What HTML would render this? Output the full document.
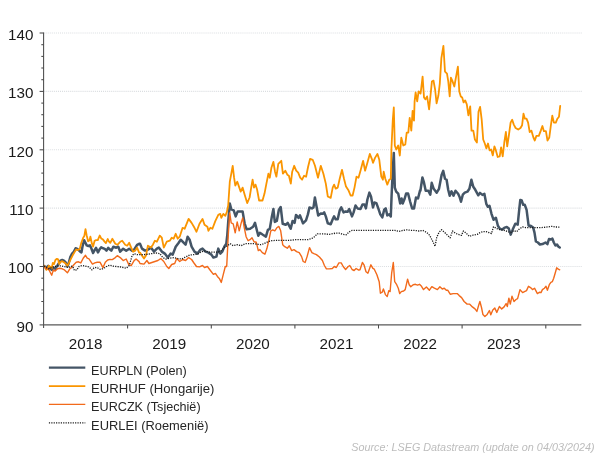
<!DOCTYPE html>
<html><head><meta charset="utf-8"><title>chart</title>
<style>
html,body{margin:0;padding:0;background:#fff;}
body{width:605px;height:454px;overflow:hidden;font-family:"Liberation Sans",sans-serif;}
svg{display:block;will-change:transform;}
text{font-family:"Liberation Sans",sans-serif;}
</style></head><body>
<svg width="605" height="454" viewBox="0 0 605 454">
<rect width="605" height="454" fill="#ffffff"/>
<g stroke="#dadde0" stroke-width="1.1" stroke-dasharray="1,1.05" fill="none"><line x1="43.6" x2="582" y1="266.5" y2="266.5"/><line x1="43.6" x2="582" y1="208.1" y2="208.1"/><line x1="43.6" x2="582" y1="149.8" y2="149.8"/><line x1="43.6" x2="582" y1="91.4" y2="91.4"/><line x1="43.6" x2="582" y1="33.0" y2="33.0"/></g>
<g fill="none" stroke-linejoin="round" stroke-linecap="round">
<path d="M44.1,266.1 L46.4,267.6 L48.2,265.8 L49.9,268.2 L51.7,269.9 L53.4,267.6 L55.2,268.8 L56.9,266.4 L58.7,263.5 L60.4,260.6 L62.2,260.0 L63.9,260.6 L65.7,262.3 L67.4,266.4 L68.6,263.5 L70.3,257.1 L72.1,253.6 L73.8,251.8 L75.6,248.3 L77.3,248.9 L79.7,251.2 L81.4,252.4 L82.6,246.0 L84.1,240.2 L85.3,242.5 L86.7,245.4 L88.4,246.0 L89.9,245.4 L91.3,248.3 L93.1,253.0 L94.6,250.1 L96.0,247.8 L98.0,252.4 L99.5,249.5 L101.2,247.2 L103.0,248.3 L104.8,248.9 L106.5,250.7 L108.2,247.8 L110.0,249.5 L111.3,250.7 L113.3,246.7 L116.3,247.7 L118.3,246.7 L120.2,251.7 L123.2,248.7 L126.2,250.7 L129.2,248.7 L132.1,250.7 L134.1,249.7 L137.1,244.8 L139.1,243.8 L140.0,243.7 L142.0,248.6 L145.0,250.6 L147.9,249.6 L150.9,247.6 L153.9,251.6 L156.9,248.6 L158.8,247.6 L161.8,251.6 L164.8,253.6 L167.8,257.6 L170.7,253.6 L172.7,254.6 L175.7,246.7 L178.7,242.7 L180.7,239.7 L183.6,242.7 L185.6,244.7 L187.6,236.7 L189.6,239.7 L191.6,246.7 L194.5,251.6 L197.5,253.6 L200.5,249.6 L202.5,248.6 L205.5,251.6 L208.4,252.6 L211.4,254.6 L213.4,257.6 L216.4,256.6 L218.3,248.6 L220.3,253.6 L222.3,251.6 L224.3,246.7 L226.3,243.7 L227.3,234.8 L228.3,220.9 L229.8,203.5 L231.3,209.4 L233.7,210.4 L235.7,216.4 L237.7,211.4 L242.6,211.4 L244.6,223.3 L246.6,229.3 L250.1,228.8 L253.1,226.8 L255.0,222.9 L257.0,230.8 L258.3,235.7 L259.9,232.8 L262.9,234.8 L265.9,236.7 L267.9,229.8 L269.8,228.8 L271.8,216.9 L273.4,209.0 L274.8,221.9 L276.8,220.9 L278.8,210.0 L280.7,207.0 L282.7,223.8 L285.7,224.8 L287.7,222.9 L290.7,228.8 L292.6,220.9 L294.6,222.9 L296.0,214.9 L298.6,217.9 L300.0,215.4 L303.0,223.3 L306.0,220.3 L307.9,214.4 L309.5,207.4 L311.9,208.4 L313.5,207.4 L314.9,197.5 L316.9,208.4 L318.2,215.4 L320.8,213.4 L322.8,213.8 L324.2,212.4 L325.8,216.4 L327.8,223.3 L330.7,224.3 L332.7,219.3 L334.1,216.4 L335.7,219.3 L337.7,219.3 L339.7,210.4 L341.3,207.4 L343.6,212.4 L345.6,211.4 L347.6,211.8 L349.2,209.0 L352.0,216.4 L353.6,212.4 L355.5,205.5 L357.5,208.4 L360.5,209.0 L362.5,204.5 L364.5,204.5 L365.9,208.4 L367.4,199.5 L369.4,192.6 L371.0,196.5 L373.0,207.4 L374.4,202.5 L376.4,203.1 L378.3,208.4 L380.3,214.4 L382.3,217.4 L384.3,209.4 L385.7,208.4 L387.3,215.4 L389.3,214.4 L390.8,216.4 L391.6,195.5 L392.8,169.8 L393.8,152.9 L394.8,187.6 L396.2,191.6 L398.2,193.6 L400.2,203.5 L401.6,198.5 L402.7,203.5 L404.7,198.5 L406.1,193.6 L408.1,193.6 L410.1,201.5 L412.1,208.4 L414.0,208.4 L416.0,197.5 L418.0,198.5 L420.0,190.6 L420.4,190.7 L422.4,177.5 L423.8,181.8 L425.7,190.7 L428.3,190.7 L430.3,194.7 L431.7,182.8 L433.7,188.8 L436.7,192.7 L439.0,188.8 L441.6,174.9 L443.2,170.9 L445.0,178.8 L446.6,179.8 L448.2,189.8 L449.7,195.7 L451.5,191.3 L453.5,195.7 L455.5,190.7 L458.1,193.7 L459.5,196.7 L461.0,201.7 L462.8,194.7 L464.8,192.7 L467.4,191.7 L469.4,188.8 L471.4,179.8 L473.3,186.8 L475.3,189.8 L478.3,195.3 L480.0,192.9 L482.4,194.9 L484.4,193.9 L486.3,203.8 L487.9,206.8 L489.5,205.8 L491.5,213.8 L493.5,219.7 L495.9,217.7 L497.9,225.7 L499.8,228.6 L502.2,229.6 L504.8,227.6 L506.8,227.0 L508.8,228.6 L510.7,234.6 L512.7,229.6 L515.3,223.7 L517.7,224.7 L519.3,208.8 L520.3,199.9 L521.7,200.5 L523.2,204.8 L524.8,204.8 L526.6,209.8 L528.6,225.7 L530.6,225.7 L533.2,227.6 L534.5,232.6 L535.9,241.5 L537.9,242.5 L539.9,244.5 L542.5,244.1 L545.5,242.5 L547.4,244.1 L549.0,239.0 L551.0,239.5 L552.4,238.6 L553.8,242.5 L555.4,245.5 L557.0,244.5 L558.3,246.5 L559.7,247.5" stroke="#445566" stroke-width="2.5"/>
<path d="M44.1,265.8 L45.2,267.6 L46.4,269.9 L47.6,268.8 L48.8,265.8 L50.5,267.0 L51.7,268.2 L52.8,262.9 L54.0,264.1 L55.4,260.0 L56.9,258.8 L58.1,259.4 L59.2,264.1 L60.8,261.8 L62.2,261.2 L63.9,262.3 L65.7,263.5 L67.4,265.8 L69.2,262.3 L70.9,258.8 L72.7,255.3 L74.4,252.4 L76.2,249.5 L77.9,250.1 L79.7,248.9 L81.4,242.5 L83.2,237.8 L84.3,236.1 L85.5,229.1 L86.7,235.5 L88.1,241.3 L89.6,240.2 L90.4,236.7 L91.9,243.7 L93.1,246.6 L94.6,240.8 L96.0,240.2 L97.8,240.2 L99.7,235.5 L101.2,238.4 L103.0,239.6 L104.8,241.9 L105.9,243.1 L107.7,239.0 L108.8,241.3 L110.0,242.5 L110.3,242.8 L112.3,238.8 L115.3,243.8 L117.3,244.8 L120.2,241.8 L122.2,240.8 L125.2,244.8 L127.2,245.7 L129.2,242.8 L131.2,247.7 L133.1,251.7 L135.1,250.7 L137.1,247.7 L139.1,252.7 L140.0,252.6 L144.0,258.6 L146.0,255.6 L147.9,245.7 L150.9,247.6 L152.9,244.7 L154.9,240.7 L156.9,241.7 L159.8,235.7 L161.8,237.7 L163.8,247.6 L166.8,241.7 L169.8,240.7 L171.7,237.7 L173.7,238.7 L175.7,233.8 L177.7,238.7 L179.7,236.7 L182.6,227.8 L184.6,228.8 L188.6,218.9 L191.6,222.9 L194.5,227.8 L196.5,231.8 L199.5,223.8 L202.5,218.9 L204.5,224.8 L207.4,226.8 L208.4,230.8 L210.4,227.8 L212.4,228.8 L215.4,220.9 L218.3,214.9 L220.3,213.9 L221.3,217.9 L223.3,213.9 L225.3,215.9 L226.9,211.9 L228.2,205.5 L229.8,181.7 L231.3,173.7 L232.7,165.8 L234.1,177.7 L235.3,185.6 L237.3,181.7 L239.3,187.6 L240.7,191.6 L242.6,187.6 L244.6,194.5 L247.2,203.1 L249.6,197.5 L251.2,187.6 L252.6,179.7 L254.0,187.6 L255.5,184.6 L257.1,189.6 L259.1,200.5 L262.5,200.5 L264.5,193.6 L266.4,183.6 L268.4,173.7 L269.8,177.7 L271.4,167.8 L273.4,161.8 L275.0,171.7 L276.4,176.7 L278.3,163.8 L281.3,160.8 L282.9,173.7 L285.3,170.7 L287.3,174.7 L288.9,175.7 L290.8,183.6 L292.2,171.7 L294.2,165.8 L296.2,170.7 L298.2,172.7 L300.2,177.7 L302.1,179.7 L304.1,175.7 L306.1,176.7 L308.1,166.8 L310.1,158.8 L312.7,159.8 L315.0,165.8 L318.0,177.7 L320.8,165.8 L323.4,173.7 L325.8,183.6 L327.8,196.5 L330.7,197.9 L332.7,187.6 L334.1,184.6 L335.7,188.6 L337.7,187.6 L339.7,178.7 L342.0,169.8 L344.0,178.7 L346.0,186.6 L348.6,190.6 L350.6,195.5 L352.6,195.5 L354.5,187.6 L356.5,176.7 L358.5,177.7 L360.5,170.7 L363.1,160.8 L365.1,170.7 L367.4,162.8 L369.8,153.9 L371.8,158.8 L373.0,162.8 L375.0,157.9 L377.4,153.9 L379.3,159.8 L381.3,176.7 L382.9,179.7 L383.7,171.7 L385.3,178.7 L387.3,184.6 L389.3,179.7 L390.8,178.7 L391.4,149.5 L392.8,119.8 L393.8,107.5 L394.8,145.5 L396.2,149.5 L398.2,145.5 L399.8,155.5 L401.3,137.6 L403.3,145.5 L405.3,144.5 L406.7,132.6 L408.3,132.6 L409.7,117.8 L411.3,130.7 L412.6,110.8 L414.0,120.7 L414.6,101.4 L415.6,92.5 L417.2,101.4 L418.6,91.5 L420.6,93.5 L422.6,76.6 L424.0,97.4 L425.5,99.4 L427.1,96.4 L429.1,109.3 L430.5,95.5 L431.9,81.6 L433.5,80.6 L435.1,89.5 L436.6,103.4 L438.4,95.5 L439.8,83.6 L441.4,57.8 L443.4,45.9 L445.0,71.7 L447.0,73.6 L448.3,81.6 L449.7,96.4 L450.9,77.6 L452.3,80.6 L454.3,86.5 L455.9,77.6 L457.9,66.7 L459.3,91.5 L460.8,96.4 L462.2,97.4 L463.6,102.4 L465.2,100.4 L466.8,104.4 L468.4,115.3 L470.2,106.4 L471.5,130.6 L473.3,130.6 L474.9,139.5 L476.9,142.5 L478.5,111.7 L480.1,106.8 L481.7,119.7 L483.2,139.5 L484.8,143.5 L486.4,148.4 L488.0,143.5 L489.6,150.4 L491.2,149.4 L492.8,155.4 L494.4,146.4 L495.9,150.4 L497.7,157.0 L499.7,156.4 L501.1,147.4 L502.7,156.4 L504.3,142.5 L505.9,132.0 L507.2,146.4 L509.0,134.5 L510.6,122.6 L512.2,119.7 L513.8,124.6 L515.6,128.0 L518.2,129.6 L520.5,128.0 L522.1,125.2 L523.5,113.7 L524.9,118.7 L526.5,118.7 L528.1,122.6 L529.7,132.0 L531.4,130.6 L533.4,137.5 L534.8,140.5 L536.4,135.9 L538.8,135.9 L540.8,130.6 L542.4,126.0 L543.9,131.2 L545.9,131.2 L547.5,140.5 L549.3,137.5 L550.7,126.6 L552.3,115.7 L553.9,122.6 L555.8,122.6 L557.4,118.7 L559.0,116.7 L560.2,105.8" stroke="#fa9500" stroke-width="1.8"/>
<path d="M44.1,266.1 L45.8,268.8 L47.6,268.2 L49.3,270.5 L51.7,275.2 L53.4,269.9 L55.2,271.1 L57.5,268.8 L59.8,268.2 L62.2,268.8 L64.5,269.9 L67.4,272.8 L69.8,268.8 L71.5,267.6 L73.8,264.7 L76.2,262.3 L78.5,261.8 L80.8,262.9 L83.2,258.2 L85.5,255.3 L87.2,258.2 L89.0,258.8 L91.3,262.3 L92.5,264.1 L94.8,262.9 L97.2,262.3 L100.1,262.3 L103.0,267.6 L105.3,262.3 L107.7,260.0 L110.0,259.4 L112.3,259.6 L115.3,257.6 L117.3,255.7 L120.2,257.6 L123.2,260.6 L126.2,259.0 L128.8,264.6 L131.2,265.6 L134.1,260.6 L136.1,259.0 L139.1,261.6 L140.0,263.5 L144.0,264.1 L146.9,260.5 L148.9,263.5 L151.9,262.5 L154.9,261.5 L157.9,260.5 L160.8,258.6 L163.8,261.5 L166.8,266.5 L168.8,268.5 L171.7,264.5 L174.7,263.5 L176.7,258.6 L179.7,261.5 L182.6,259.5 L185.6,260.5 L188.6,257.6 L191.6,259.5 L193.6,262.5 L196.5,266.5 L199.5,266.9 L202.5,265.5 L204.5,267.5 L207.4,266.5 L210.4,270.5 L213.4,274.4 L215.4,273.4 L217.4,276.4 L219.3,278.4 L221.3,282.4 L223.3,274.4 L225.3,266.5 L226.7,266.5 L228.3,234.8 L229.7,212.9 L231.2,222.9 L233.2,223.8 L235.2,232.8 L237.2,221.9 L239.2,230.8 L241.2,222.9 L242.7,217.9 L244.1,226.8 L246.1,236.7 L248.1,240.7 L250.0,239.7 L252.0,237.7 L254.0,241.7 L256.3,242.3 L258.3,250.6 L259.9,249.6 L262.3,252.6 L264.9,254.2 L266.9,248.6 L268.8,240.7 L270.8,230.8 L272.8,229.8 L274.8,230.8 L276.8,227.8 L278.8,226.4 L280.7,230.8 L282.7,244.7 L284.7,246.7 L287.3,248.2 L289.3,245.7 L291.7,250.6 L294.0,249.6 L296.6,251.6 L299.2,252.6 L301.6,256.6 L303.2,261.5 L305.1,262.5 L307.1,256.6 L309.5,247.6 L311.9,252.6 L313.9,253.6 L316.4,254.6 L319.4,257.0 L322.4,260.5 L324.4,265.5 L326.4,268.9 L329.3,268.9 L332.3,268.5 L334.3,266.5 L336.3,267.5 L338.9,262.9 L341.2,262.9 L343.2,266.5 L345.6,269.5 L348.2,266.5 L349.8,265.5 L352.1,269.5 L354.1,270.5 L356.1,268.5 L358.7,270.1 L360.0,269.8 L362.4,262.5 L364.0,264.8 L366.0,271.8 L367.9,273.2 L370.9,264.8 L372.9,268.4 L374.3,269.2 L376.9,274.8 L379.2,281.7 L380.4,293.2 L382.2,292.2 L383.4,289.0 L385.4,294.6 L387.2,296.6 L388.8,290.6 L390.1,291.6 L391.7,272.8 L393.3,262.5 L394.7,281.7 L396.7,284.7 L398.3,288.2 L399.7,293.6 L401.3,291.6 L403.6,291.0 L405.2,289.6 L407.6,279.1 L409.2,284.7 L410.8,286.7 L413.2,284.7 L415.5,284.3 L417.5,285.1 L419.5,284.3 L421.5,286.3 L423.5,289.6 L426.4,287.0 L429.4,290.2 L431.8,286.7 L434.4,288.2 L437.4,289.6 L439.9,286.7 L442.3,289.0 L444.3,288.2 L446.3,290.2 L447.7,290.2 L450.2,294.2 L453.2,293.6 L457.2,293.6 L459.2,295.6 L461.6,297.6 L464.1,301.5 L467.1,304.1 L469.5,304.1 L470.0,304.5 L472.4,306.9 L475.0,308.9 L476.9,311.4 L478.9,304.5 L479.9,301.5 L481.5,307.5 L482.9,314.4 L484.9,316.4 L486.9,314.8 L489.4,310.5 L490.8,314.8 L492.8,310.1 L494.8,308.1 L496.8,312.4 L499.4,306.5 L501.7,308.9 L504.1,306.9 L506.1,303.5 L507.3,306.5 L508.9,298.2 L510.3,304.1 L512.0,296.2 L514.0,301.5 L516.0,299.5 L517.6,298.6 L520.0,289.6 L522.6,292.6 L524.5,291.6 L526.5,290.6 L528.5,286.3 L530.5,287.6 L532.5,289.6 L534.5,288.2 L537.4,293.6 L539.4,292.2 L541.0,292.6 L542.4,289.6 L544.4,288.2 L546.0,286.3 L547.4,290.2 L549.3,284.7 L550.9,282.3 L552.3,281.7 L553.7,278.3 L555.3,272.8 L556.7,267.8 L558.3,269.2 L559.7,269.8" stroke="#f26a1b" stroke-width="1.4"/>
<path d="M44.1,266.1 L46.4,267.6 L48.8,268.8 L51.7,267.6 L54.6,266.4 L57.5,266.1 L60.4,265.8 L63.3,266.4 L66.2,267.0 L68.6,267.6 L70.9,266.1 L72.7,266.4 L74.4,270.5 L76.8,269.9 L79.1,266.4 L82.0,265.6 L84.3,265.8 L86.7,266.4 L89.0,267.0 L91.9,269.9 L94.2,267.6 L97.2,267.6 L100.1,269.3 L102.4,268.8 L104.8,267.6 L107.7,265.8 L110.0,265.2 L113.3,266.2 L117.3,266.6 L121.2,267.0 L126.2,268.2 L129.2,265.6 L132.1,255.7 L134.1,253.7 L137.1,254.7 L140.0,254.6 L144.0,254.6 L147.9,254.2 L151.9,253.6 L155.9,253.0 L159.8,253.6 L162.8,257.6 L165.8,259.0 L169.8,258.2 L173.7,257.6 L177.7,258.6 L181.7,259.0 L185.6,257.0 L189.6,255.0 L193.6,254.6 L197.5,254.2 L201.5,251.6 L205.5,251.0 L209.4,252.2 L213.4,252.2 L217.4,252.2 L221.3,250.6 L224.3,247.6 L227.3,245.7 L230.2,243.7 L233.2,245.7 L237.2,244.7 L241.2,245.7 L245.1,243.7 L249.1,243.7 L250.0,243.7 L254.0,243.7 L257.9,244.3 L260.9,244.7 L263.9,243.7 L267.9,241.7 L271.8,240.7 L275.8,240.3 L279.8,240.3 L283.7,240.3 L289.7,240.3 L295.6,239.7 L301.6,239.7 L307.5,239.7 L311.5,238.7 L314.5,236.7 L317.4,233.8 L323.4,233.8 L329.3,234.4 L335.3,233.2 L339.3,233.2 L343.2,234.4 L346.2,234.8 L349.2,231.8 L352.1,230.4 L357.1,230.4 L363.1,230.4 L370.0,230.4 L395.0,230.4 L399.0,231.4 L402.9,230.4 L406.9,229.8 L410.9,230.4 L414.8,230.4 L418.8,231.0 L422.8,230.4 L426.7,232.4 L429.7,235.4 L432.7,241.3 L435.1,246.3 L436.7,237.4 L439.0,232.4 L441.6,229.8 L444.6,232.4 L447.6,235.4 L450.1,237.8 L452.5,231.0 L455.5,233.4 L458.5,234.4 L461.4,235.4 L463.4,231.0 L466.4,233.4 L469.4,236.4 L473.3,235.0 L477.3,234.4 L480.0,232.6 L483.0,231.6 L486.0,231.6 L488.9,232.6 L491.5,233.6 L493.5,226.7 L496.9,228.6 L499.8,229.6 L503.8,230.2 L507.8,231.6 L510.7,232.6 L513.7,230.6 L516.7,231.6 L519.7,228.6 L522.6,227.0 L525.6,227.6 L529.6,227.6 L533.6,227.6 L537.5,227.6 L541.5,227.6 L545.5,227.2 L549.4,226.7 L552.4,226.3 L555.4,227.0 L558.3,227.0 L559.7,227.6" stroke="#1a1a1a" stroke-width="1.3" stroke-dasharray="1.2,1.2" stroke-linecap="butt"/>
</g>
<g stroke="#4a4a4a" stroke-width="1.05" fill="none">
<line x1="43.6" x2="43.6" y1="32.5" y2="328.09999999999997"/>
<line x1="43.0" x2="581.3" y1="324.9" y2="324.9" stroke="#595959" stroke-width="1.3"/>
<line x1="39.6" x2="43.6" y1="324.9" y2="324.9"/><line x1="39.6" x2="43.6" y1="266.5" y2="266.5"/><line x1="39.6" x2="43.6" y1="208.1" y2="208.1"/><line x1="39.6" x2="43.6" y1="149.8" y2="149.8"/><line x1="39.6" x2="43.6" y1="91.4" y2="91.4"/><line x1="39.6" x2="43.6" y1="33.0" y2="33.0"/><line x1="41.300000000000004" x2="43.6" y1="313.2" y2="313.2"/><line x1="41.300000000000004" x2="43.6" y1="301.5" y2="301.5"/><line x1="41.300000000000004" x2="43.6" y1="289.9" y2="289.9"/><line x1="41.300000000000004" x2="43.6" y1="278.2" y2="278.2"/><line x1="41.300000000000004" x2="43.6" y1="254.8" y2="254.8"/><line x1="41.300000000000004" x2="43.6" y1="243.2" y2="243.2"/><line x1="41.300000000000004" x2="43.6" y1="231.5" y2="231.5"/><line x1="41.300000000000004" x2="43.6" y1="219.8" y2="219.8"/><line x1="41.300000000000004" x2="43.6" y1="196.5" y2="196.5"/><line x1="41.300000000000004" x2="43.6" y1="184.8" y2="184.8"/><line x1="41.300000000000004" x2="43.6" y1="173.1" y2="173.1"/><line x1="41.300000000000004" x2="43.6" y1="161.4" y2="161.4"/><line x1="41.300000000000004" x2="43.6" y1="138.1" y2="138.1"/><line x1="41.300000000000004" x2="43.6" y1="126.4" y2="126.4"/><line x1="41.300000000000004" x2="43.6" y1="114.7" y2="114.7"/><line x1="41.300000000000004" x2="43.6" y1="103.1" y2="103.1"/><line x1="41.300000000000004" x2="43.6" y1="79.7" y2="79.7"/><line x1="41.300000000000004" x2="43.6" y1="68.0" y2="68.0"/><line x1="41.300000000000004" x2="43.6" y1="56.4" y2="56.4"/><line x1="41.300000000000004" x2="43.6" y1="44.7" y2="44.7"/><line x1="127.6" x2="127.6" y1="324.9" y2="328.5"/><line x1="211.3" x2="211.3" y1="324.9" y2="328.5"/><line x1="294.9" x2="294.9" y1="324.9" y2="328.5"/><line x1="378.5" x2="378.5" y1="324.9" y2="328.5"/><line x1="462.1" x2="462.1" y1="324.9" y2="328.5"/><line x1="545.8" x2="545.8" y1="324.9" y2="328.5"/>
</g>
<g font-size="15.2" fill="#1a1a1a"><text x="33.4" y="331.8" text-anchor="end">90</text><text x="33.4" y="273.4" text-anchor="end">100</text><text x="33.4" y="215.0" text-anchor="end">110</text><text x="33.4" y="156.7" text-anchor="end">120</text><text x="33.4" y="98.3" text-anchor="end">130</text><text x="33.4" y="39.9" text-anchor="end">140</text></g>
<g font-size="15.2" fill="#1a1a1a"><text x="85.6" y="348.8" text-anchor="middle">2018</text><text x="169.2" y="348.8" text-anchor="middle">2019</text><text x="252.9" y="348.8" text-anchor="middle">2020</text><text x="336.5" y="348.8" text-anchor="middle">2021</text><text x="420.1" y="348.8" text-anchor="middle">2022</text><text x="503.8" y="348.8" text-anchor="middle">2023</text></g>
<g fill="none">
<line x1="48.9" x2="85.3" y1="367.6" y2="367.6" stroke="#445566" stroke-width="2.1"/>
<line x1="48.9" x2="85.3" y1="386.2" y2="386.2" stroke="#fa9500" stroke-width="1.7"/>
<line x1="48.9" x2="85.3" y1="404.3" y2="404.3" stroke="#f26a1b" stroke-width="1.2"/>
<line x1="48.9" x2="85.3" y1="422.9" y2="422.9" stroke="#1a1a1a" stroke-width="1.4" stroke-dasharray="1.19,1.19"/>
</g>
<g font-size="13" fill="#262626">
<text x="91.1" y="374.8" textLength="95.7" lengthAdjust="spacingAndGlyphs">EURPLN (Polen)</text>
<text x="91.1" y="393.1" textLength="123.3" lengthAdjust="spacingAndGlyphs">EURHUF (Hongarije)</text>
<text x="91.1" y="411.4" textLength="109.5" lengthAdjust="spacingAndGlyphs">EURCZK (Tsjechië)</text>
<text x="91.1" y="429.6" textLength="117.4" lengthAdjust="spacingAndGlyphs">EURLEI (Roemenië)</text>
</g>
<text x="594.6" y="450.5" text-anchor="end" font-size="10.9" textLength="243.4" lengthAdjust="spacingAndGlyphs" font-style="italic" fill="#bdbdbd">Source: LSEG Datastream (update on 04/03/2024)</text>
</svg>
</body></html>
